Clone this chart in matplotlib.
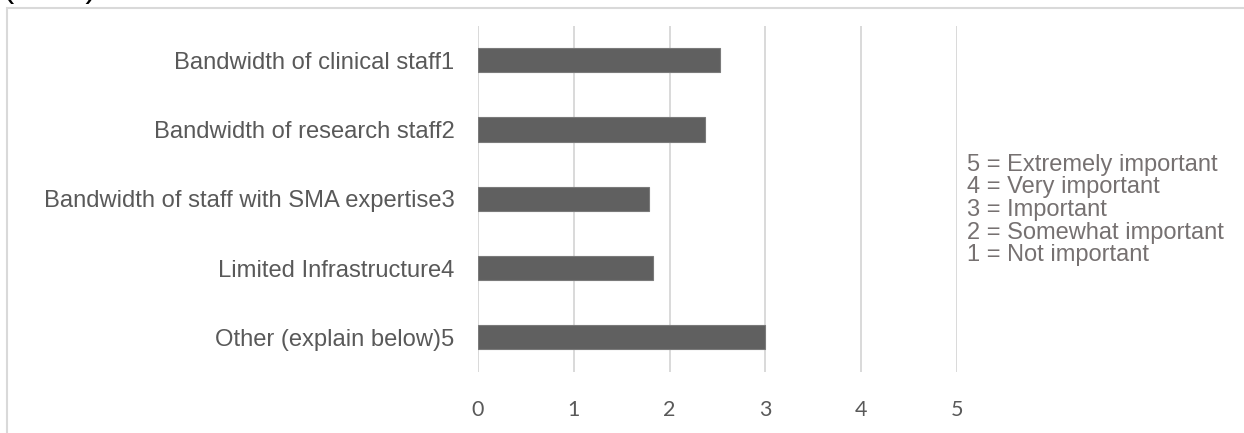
import matplotlib.pyplot as plt
from matplotlib.patches import Rectangle

# average rating per barrier (1-5 scale)
categories = ['Bandwidth of clinical staff1',
              'Bandwidth of research staff2',
              'Bandwidth of staff with SMA expertise3',
              'Limited Infrastructure4',
              'Other (explain below)5']
values = [2.53, 2.37, 1.79, 1.83, 3.00]
xticks = [0, 1, 2, 3, 4, 5]
scale_notes = ['5 = Extremely important',
               '4 = Very important',
               '3 = Important',
               '2 = Somewhat important',
               '1 = Not important']

W, H = 1244, 433
fig = plt.figure(figsize=(W / 100, H / 100), dpi=100)

# chart frame (only top and left edges fall inside the canvas)
fig.patches.append(Rectangle((7 / W, -0.1), 1.2, 1 - 8 / H + 0.1,
                             transform=fig.transFigure, fill=False,
                             edgecolor='#d9d9d9', linewidth=1.5))
fig.text(3 / W, 1 + 3.5 / H, '(cont.)', fontsize=24, family='Liberation Sans',
         color='black', ha='left', va='baseline')

ax = fig.add_axes([478 / W, 1 - 372 / H, (957 - 478) / W, (372 - 25.7) / H])
y = list(range(len(categories)))
ax.barh(y, values, height=0.35, color='#606060', edgecolor='#7a7a7a',
        linewidth=0.8, zorder=3)
ax.set_xlim(0, 5)
ax.set_ylim(len(categories) - 0.5, -0.5)
ax.set_xticks(xticks)
ax.set_xticklabels([str(t) for t in xticks], family='Lato', fontsize=15.5,
                   color='#595959')
ax.set_yticks(y)
ax.set_yticklabels(categories, family='Liberation Sans', fontsize=17.1,
                   color='#595959')
ax.tick_params(axis='x', length=0, pad=20)
ax.tick_params(axis='y', length=0, pad=17)
ax.grid(axis='x', color='#d9d9d9', linewidth=1.4, zorder=0)
for s in ax.spines.values():
    s.set_visible(False)

for i, note in enumerate(scale_notes):
    fig.text(967 / W, 1 - (165 + 22.5 * i) / H, note, family='Liberation Sans',
             fontsize=17, color='#767171', ha='left', va='center')

fig.savefig('out.png', dpi=100)
